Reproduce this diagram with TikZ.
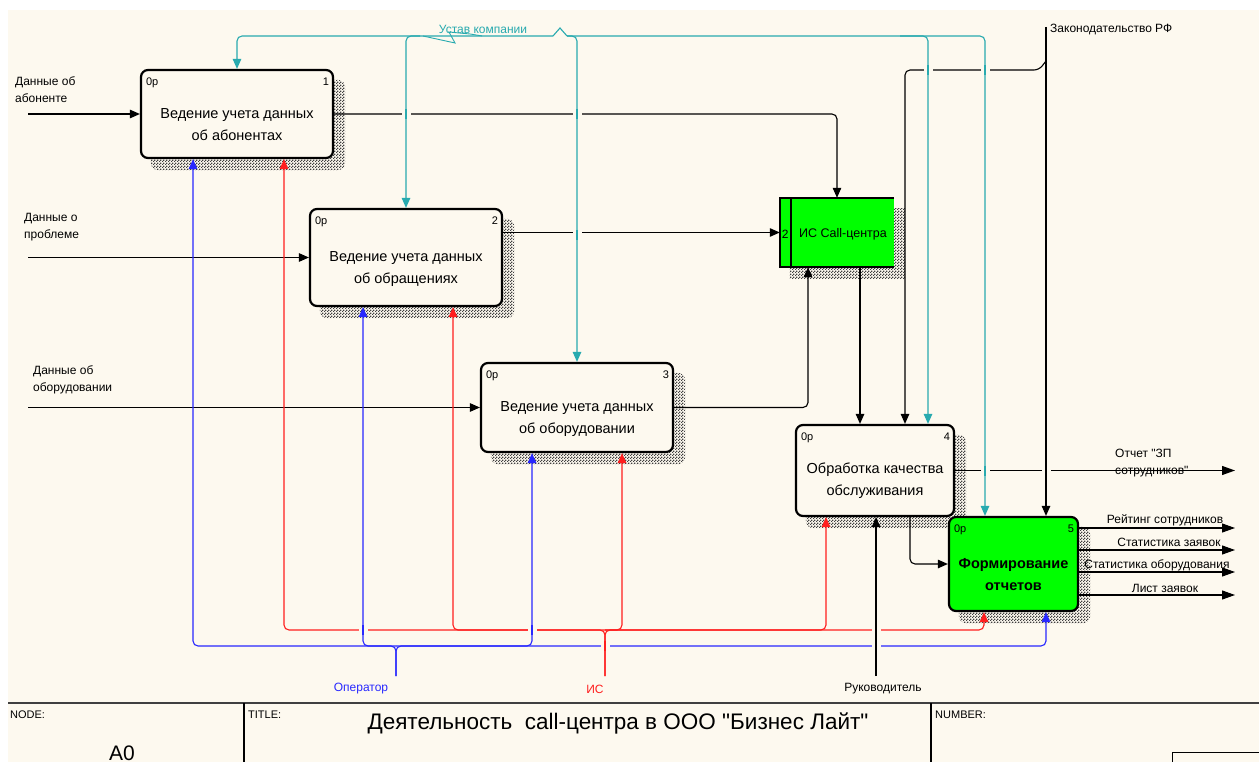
\documentclass[tikz,border=0pt]{standalone}
\usepackage{fontspec}
\setmainfont{Liberation Sans}[Ligatures=TeXOff]
\usetikzlibrary{arrows.meta,calc,patterns,backgrounds}

% fine checker used for the drop shadows of the activity boxes
\pgfdeclarepatternformonly{idefhatch}{\pgfpointorigin}{\pgfpoint{3pt}{3pt}}{\pgfpoint{3pt}{3pt}}{%
  \pgfpathrectangle{\pgfpointorigin}{\pgfpoint{1.5pt}{1.5pt}}%
  \pgfpathrectangle{\pgfpoint{1.5pt}{1.5pt}}{\pgfpoint{1.5pt}{1.5pt}}%
  \pgfusepath{fill}%
}

\definecolor{paper}{RGB}{253,249,239}
\definecolor{ctrlteal}{RGB}{40,170,175}
\definecolor{mechblue}{RGB}{40,40,255}
\definecolor{mechred}{RGB}{255,30,30}
\definecolor{actgreen}{RGB}{0,255,0}
\definecolor{framegray}{RGB}{64,64,64}

\begin{document}
\begin{tikzpicture}[x=1pt,y=-1pt,
  actbox/.style={draw=black, line width=2.2pt, rounded corners=7pt, fill=paper, inner sep=0pt},
  dropshadow/.style={pattern=idefhatch, pattern color=black!75},
  boxtext/.style={align=center, inner sep=0pt, font=\fontsize{14.5}{22}\selectfont},
  cornertag/.style={inner sep=0pt, font=\fontsize{11}{13}\selectfont},
  lbl/.style={inner sep=0pt, align=left, font=\fontsize{12}{17}\selectfont},
  frametext/.style={inner sep=0pt, font=\fontsize{11}{13}\selectfont},
  flow/.style={line width=1.1pt, rounded corners=5pt},
  intip/.style={-{Triangle[length=10pt,width=8.5pt]}},
  outtip/.style={-{Triangle[length=13pt,width=9pt]}}]

\useasboundingbox (0,0) rectangle (1259,762);

% ---------- activity boxes ----------
\node[actbox, minimum width=192pt, minimum height=88pt] (b1) at (237,114) {};
\node[actbox, minimum width=192pt, minimum height=97pt] (b2) at (406,257.5) {};
\node[actbox, minimum width=192pt, minimum height=89pt] (b3) at (577,407.5) {};
\node[actbox, minimum width=158pt, minimum height=91pt] (b4) at (875,470.5) {};
\node[actbox, fill=actgreen, minimum width=129pt, minimum height=94pt] (b5) at (1013.5,564) {};
\node[fill=actgreen, inner sep=0pt, minimum width=114pt, minimum height=69pt] (isc) at (837,232.5) {};
\draw[line width=2.2pt] (isc.north east) -- (isc.north west) -- (isc.south west) -- (isc.south east);
\draw[line width=2pt] ($(isc.north west)+(11,0)$) -- ($(isc.south west)+(11,0)$);

\node[boxtext] (t1) at ($(b1.center)+(0,11)$) {Ведение учета данных\\об абонентах};
\node[boxtext] (t2) at ($(b2.center)+(0,12)$) {Ведение учета данных\\об обращениях};
\node[boxtext] (t3) at ($(b3.center)+(0,12)$) {Ведение учета данных\\об оборудовании};
\node[boxtext] (t4) at ($(b4.center)+(0,10.5)$) {Обработка качества\\обслуживания};
\node[boxtext, font=\fontsize{14.5}{22}\selectfont\bfseries] (t5) at ($(b5.center)+(0,11)$) {Формирование\\отчетов};
\node[inner sep=0pt, font=\fontsize{12.5}{15}\selectfont] (t6) at ($(isc.center)+(6,1.5)$) {ИС Call-центра};

\foreach \b/\n in {b1/1, b2/2, b3/3, b4/4, b5/5} {
  \node[cornertag, anchor=west] (\b p) at ($(\b.north west)+(6,14)$) {0р};
  \node[cornertag, anchor=east] (\b n) at ($(\b.north east)+(-5,13)$) {\n};
}
\node[cornertag, font=\fontsize{12}{14}\selectfont] (iscn) at ($(isc.west)+(5.5,2)$) {2};

% ---------- inputs ----------
\coordinate (in1) at (28,114);
\coordinate (in2) at (28,257.5);
\coordinate (in3) at (28,407.5);
\draw[flow,intip] (in1) -- (b1.west);
\draw[flow,intip] (in2) -- (b2.west);
\draw[flow,intip] (in3) -- (b3.west);
\node[lbl, anchor=north west] (lin1) at (15,77) {Данные об\\абоненте};
\node[lbl, anchor=north west] (lin2) at (24,213) {Данные о\\проблеме};
\node[lbl, anchor=north west] (lin3) at (33,365) {Данные об\\оборудовании};

% ---------- links between activities ----------
\draw[flow,intip] (b1.east) -| (isc.north);
\draw[flow,intip] (isc.west -| b2.east) -- (isc.west);
\draw[flow,intip] (b3.east) -| (isc.south -| 808,0);
\draw[flow,intip] (isc.south -| 860,0) -- (b4.north -| 860,0);
\draw[flow,intip] (b4.south -| 910,0) |- (b5.west);

% ---------- controls ----------
\coordinate (ustav) at (560,28);
\draw[ctrlteal, line width=1.1pt] (553,36) -- (ustav) -- (567,36);
\draw[ctrlteal, line width=0.9pt] (423,36) -- (455,43) -- (449,32) -- (470,34) -- (482,36);
\draw[flow,intip,ctrlteal] (553,36) -| (b1.north);
\draw[flow,intip,ctrlteal] (420,36) -| (b2.north);
\draw[flow,intip,ctrlteal] (567,36) -| (b3.north);
\draw[flow,intip,ctrlteal] (900,36) -| (b4.north -| 928,0);
\draw[flow,intip,ctrlteal] (567,36) -| (b5.north -| 985,0);
\node[lbl, text=ctrlteal] (lustav) at (483,29) {Устав компании};

\coordinate (law) at (1046,27);
\draw[flow,intip] (law) -- (b5.north -| law);
\draw[flow,intip] (1046,61) -- (1039,70) -| (b4.north -| 905,0);
\node[lbl, anchor=west] (llaw) at (1050,30) {Законодательство РФ};

% ---------- mechanisms ----------
\coordinate (oper) at (396,676);
\coordinate (bbus) at (396,646);
\draw[flow,intip,mechblue] (oper) -- (bbus) -| (b1.south -| 193,0);
\draw[flow,intip,mechblue] (bbus) -| (b2.south -| 363,0);
\draw[flow,intip,mechblue] (bbus) -| (b3.south -| 532,0);
\draw[flow,intip,mechblue] (oper) -- (bbus) -| (b5.south -| 1046,0);

\coordinate (ism) at (605,676);
\coordinate (rbus) at (605,630);
\draw[flow,intip,mechred] (ism) -- (rbus) -| (b1.south -| 284,0);
\draw[flow,intip,mechred] (rbus) -| (b2.south -| 453,0);
\draw[flow,intip,mechred] (rbus) -| (b3.south -| 622,0);
\draw[flow,intip,mechred] (rbus) -| (b4.south -| 826,0);
\draw[flow,intip,mechred] (ism) -- (rbus) -| (b5.south -| 984,0);

\coordinate (boss) at (876,676);
\draw[flow,intip] (boss) -- (b4.south -| boss);

\node[lbl, text=mechblue] (loper) at (361,689) {Оператор};
\node[lbl, text=mechred] (lism) at (595,689) {ИС};
\node[lbl] (lboss) at (883,689) {Руководитель};

% ---------- outputs ----------
\coordinate (o4) at (1235,470.5);
\draw[flow,outtip] (b4.east) -- (o4);
\node[lbl, anchor=north west] (lo4) at (1115,449) {Отчет "ЗП\\сотрудников"};

\coordinate (o51) at (1235,528);
\coordinate (o52) at (1235,550);
\coordinate (o53) at (1235,572);
\coordinate (o54) at (1235,595);
\draw[flow,outtip] (b5.east |- o51) -- (o51);
\draw[flow,outtip] (b5.east |- o52) -- (o52);
\draw[flow,outtip] (b5.east |- o53) -- (o53);
\draw[flow,outtip] (b5.east |- o54) -- (o54);
\node[lbl] (lo51) at (1165,520) {Рейтинг сотрудников};
\node[lbl] (lo52) at (1169,542) {Статистика заявок};
\node[lbl] (lo53) at (1157,565) {Статистика оборудования};
\node[lbl] (lo54) at (1165,588) {Лист заявок};

% ---------- crossings: the upper line passes through a gap ----------
\foreach \px/\py/\pc in {406/114/ctrlteal, 577/114/ctrlteal, 577/235/ctrlteal,
    928/70/ctrlteal, 985/70/ctrlteal, 985/470.5/ctrlteal, 1046/470.5/black,
    363/630/mechblue, 532/630/mechblue, 605/646/mechred,
    876/646/black, 876/630/black} {
  \fill[paper] (\px-4.5,\py-2.5) rectangle (\px+4.5,\py+2.5);
  \draw[line width=1.1pt, draw=\pc] (\px,\py-5) -- (\px,\py+5);
}

% ---------- title block ----------
\draw[framegray, line width=1.8pt] (8,703) -- (1259,703);
\draw[line width=1.3pt] (244,703) -- (244,762);
\draw[line width=1.3pt] (931,703) -- (931,762);
\draw[line width=1pt] (1172,775) -- (1172,752) -- (1270,752);
\node[frametext, anchor=west] (fnode) at (10,715) {NODE:};
\node[frametext, anchor=west] (ftitle) at (248,715) {TITLE:};
\node[frametext, anchor=west] (fnum) at (935,715) {NUMBER:};
\node[inner sep=0pt, anchor=base, font=\fontsize{22.5}{26}\selectfont] (ftext) at (618,729) {Деятельность\ \ call-центра в ООО "Бизнес Лайт"};
\node[inner sep=0pt, anchor=base, font=\fontsize{21}{24}\selectfont] (fa0) at (122,760) {A0};

% ---------- sheet and shadows ----------
\begin{scope}[on background layer]
  \fill[white] (0,0) rectangle (1259,762);
  \fill[paper] (8,10) rectangle (1259,762);
  \foreach \b in {b1,b2,b3,b4,b5} {
    \fill[dropshadow, rounded corners=7pt] ($(\b.south west)+(11,11)$) rectangle ($(\b.north east)+(11,11)$);
  }
  \fill[dropshadow] ($(isc.south west)+(10,11)$) rectangle ($(isc.north east)+(11,11)$);
\end{scope}
\end{tikzpicture}
\end{document}
